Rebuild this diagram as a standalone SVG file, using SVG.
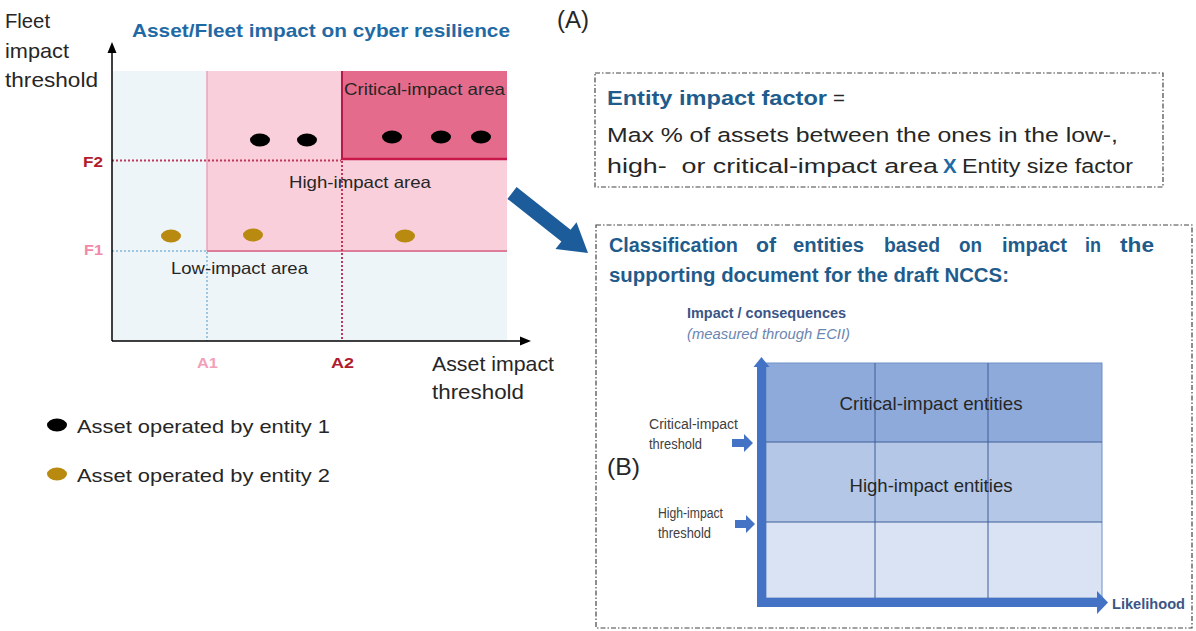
<svg xmlns="http://www.w3.org/2000/svg" width="1196" height="631" viewBox="0 0 1196 631">
<style>
text{font-family:"Liberation Sans",Arial,sans-serif;fill:#262626}
.b{font-weight:bold}
.ttl{fill:#1f5c8c;font-weight:bold}
.ax{font-size:21px}
.dash{fill:none;stroke:#444;stroke-width:1.2;stroke-dasharray:5,2,1.5,2}
.dot1{fill:#000}
.dot2{fill:#b98a10}
.grid{stroke:#3f5f99;stroke-width:1;fill:none}
.blue{fill:#4472c4}
.lbl{font-size:14px;fill:#404040}
</style>
<rect width="1196" height="631" fill="#fff"/>

<g id="chart-a">
  <text class="ax" x="5" y="28" textLength="45" lengthAdjust="spacingAndGlyphs">Fleet</text>
  <text class="ax" x="5" y="58" textLength="64" lengthAdjust="spacingAndGlyphs">impact</text>
  <text class="ax" x="5" y="87" textLength="93" lengthAdjust="spacingAndGlyphs">threshold</text>
  <text x="132" y="37" font-size="18.5" font-weight="bold" style="fill:#1f6aa5" textLength="378" lengthAdjust="spacingAndGlyphs">Asset/Fleet impact on cyber resilience</text>
  <text x="557" y="28" font-size="23" textLength="32" lengthAdjust="spacingAndGlyphs">(A)</text>

  <g id="areas">
    <rect x="112" y="71" width="395" height="270" fill="#eef5f9"/>
    <rect x="207" y="71" width="300" height="180" fill="#f9cfdb"/>
    <line x1="207" y1="71" x2="207" y2="251" stroke="#eba2b7" stroke-width="1.5"/>
    <line x1="207" y1="251" x2="507" y2="251" stroke="#de7d99" stroke-width="2"/>
    <rect x="341" y="71" width="166" height="88" fill="#e46b8c"/>
    <line x1="342" y1="71" x2="342" y2="160" stroke="#b51b48" stroke-width="2"/>
    <line x1="341" y1="159" x2="507" y2="159" stroke="#c8184a" stroke-width="2.5"/>
  </g>

  <g id="thresholds">
    <line x1="112" y1="160.5" x2="341" y2="160.5" stroke="#c0395a" stroke-width="2" stroke-dasharray="2,2"/>
    <line x1="342" y1="161" x2="342" y2="341" stroke="#c0395a" stroke-width="2" stroke-dasharray="2,2"/>
    <line x1="112" y1="251" x2="207" y2="251" stroke="#9dc6e0" stroke-width="2" stroke-dasharray="2,2"/>
    <line x1="207" y1="252" x2="207" y2="341" stroke="#9dc6e0" stroke-width="2" stroke-dasharray="2,2"/>
    <text x="83" y="167" font-size="15" class="b" style="fill:#b01c2e" textLength="20" lengthAdjust="spacingAndGlyphs">F2</text>
    <text x="84" y="255" font-size="15" class="b" style="fill:#f08aa8" textLength="19" lengthAdjust="spacingAndGlyphs">F1</text>
    <text x="197" y="368" font-size="15" class="b" style="fill:#f2a0b8" textLength="21" lengthAdjust="spacingAndGlyphs">A1</text>
    <text x="331" y="368" font-size="15" class="b" style="fill:#b01c2e" textLength="23" lengthAdjust="spacingAndGlyphs">A2</text>
  </g>

  <g id="axes">
    <line x1="112" y1="341" x2="112" y2="50" stroke="#000" stroke-width="1.5"/>
    <polygon points="112,42 107.5,53 116.5,53" fill="#000"/>
    <line x1="112" y1="341" x2="522" y2="341" stroke="#000" stroke-width="1.5"/>
    <polygon points="531,341 520,336.5 520,345.5" fill="#000"/>
  </g>

  <text x="344" y="95" font-size="16.5" textLength="161" lengthAdjust="spacingAndGlyphs">Critical-impact area</text>
  <text x="289" y="188" font-size="16.5" textLength="142" lengthAdjust="spacingAndGlyphs">High-impact area</text>
  <text x="171" y="274" font-size="16.5" textLength="137" lengthAdjust="spacingAndGlyphs">Low-impact area</text>

  <g id="assets">
    <ellipse class="dot1" cx="260" cy="140" rx="10" ry="6.5"/>
    <ellipse class="dot1" cx="307" cy="140" rx="10" ry="6.5"/>
    <ellipse class="dot1" cx="392" cy="137" rx="10" ry="6.5"/>
    <ellipse class="dot1" cx="441" cy="137" rx="10" ry="6.5"/>
    <ellipse class="dot1" cx="481" cy="137" rx="10" ry="6.5"/>
    <ellipse class="dot2" cx="171" cy="236" rx="10" ry="6.5"/>
    <ellipse class="dot2" cx="253" cy="235" rx="10" ry="6.5"/>
    <ellipse class="dot2" cx="405" cy="236" rx="10" ry="6.5"/>
  </g>

  <text class="ax" x="432" y="371" textLength="122" lengthAdjust="spacingAndGlyphs">Asset impact</text>
  <text class="ax" x="432" y="399" textLength="92" lengthAdjust="spacingAndGlyphs">threshold</text>
</g>

<g id="legend">
  <ellipse class="dot1" cx="57" cy="425" rx="10" ry="6.5"/>
  <text x="77" y="433" font-size="19" textLength="253" lengthAdjust="spacingAndGlyphs">Asset operated by entity 1</text>
  <ellipse class="dot2" cx="57" cy="474" rx="10" ry="6.5"/>
  <text x="77" y="482" font-size="19" textLength="253" lengthAdjust="spacingAndGlyphs">Asset operated by entity 2</text>
</g>

<g id="box-formula">
  <rect class="dash" x="595" y="73" width="568" height="114"/>
  <text x="607" y="105" font-size="20.5" class="ttl" textLength="220" lengthAdjust="spacingAndGlyphs">Entity impact factor</text>
  <text x="833" y="105" font-size="20.5">=</text>
  <text x="607" y="142" font-size="20.5" textLength="511" lengthAdjust="spacingAndGlyphs">Max % of assets between the ones in the low-,</text>
  <text x="607" y="173" font-size="20.5" textLength="331" lengthAdjust="spacingAndGlyphs" xml:space="preserve">high-  or critical-impact area</text>
  <text x="943" y="173" font-size="20.5" class="ttl" style="fill:#1f6aa5">X</text>
  <text x="962" y="173" font-size="20.5" textLength="171" lengthAdjust="spacingAndGlyphs">Entity size factor</text>
</g>

<g id="connectors">
  <polygon points="507.4,198.9 516.6,187.1 570.6,229.7 576.5,222.3 588,253 555.5,248.9 561.4,241.5" fill="#1d5c9a"/>
</g>

<g id="box-classification">
  <rect class="dash" x="596" y="225" width="596" height="403"/>
  <g font-size="19.5" class="ttl">
    <text class="ttl" x="609" y="252" textLength="129" lengthAdjust="spacingAndGlyphs">Classification</text>
    <text class="ttl" x="756" y="252" textLength="20" lengthAdjust="spacingAndGlyphs">of</text>
    <text class="ttl" x="793" y="252" textLength="71" lengthAdjust="spacingAndGlyphs">entities</text>
    <text class="ttl" x="884" y="252" textLength="56" lengthAdjust="spacingAndGlyphs">based</text>
    <text class="ttl" x="959" y="252" textLength="23" lengthAdjust="spacingAndGlyphs">on</text>
    <text class="ttl" x="1002" y="252" textLength="65" lengthAdjust="spacingAndGlyphs">impact</text>
    <text class="ttl" x="1085" y="252" textLength="16" lengthAdjust="spacingAndGlyphs">in</text>
    <text class="ttl" x="1120" y="252" textLength="34" lengthAdjust="spacingAndGlyphs">the</text>
    <text class="ttl" x="609" y="282" textLength="400" lengthAdjust="spacingAndGlyphs">supporting document for the draft NCCS:</text>
  </g>
  <text x="607" y="475" font-size="24" textLength="33" lengthAdjust="spacingAndGlyphs">(B)</text>
</g>

<g id="matrix">
  <text x="687" y="318" font-size="14" class="b" style="fill:#3b5586" textLength="159" lengthAdjust="spacingAndGlyphs">Impact / consequences</text>
  <text x="687" y="339" font-size="14" font-style="italic" style="fill:#6b86b0" textLength="163" lengthAdjust="spacingAndGlyphs">(measured through ECII)</text>

  <rect x="766" y="363" width="336" height="79" fill="#8eaadb"/>
  <rect x="766" y="442" width="336" height="80" fill="#b4c7e7"/>
  <rect x="766" y="522" width="336" height="76" fill="#dae3f3"/>
  <rect x="766" y="363" width="336" height="235" fill="none" stroke="#6f8fc8" stroke-width="1"/>
  <line class="grid" x1="875" y1="363" x2="875" y2="598"/>
  <line class="grid" x1="988" y1="363" x2="988" y2="598"/>
  <line class="grid" x1="766" y1="442" x2="1102" y2="442"/>
  <line class="grid" x1="766" y1="522" x2="1102" y2="522"/>

  <text x="931" y="410" font-size="18.5" text-anchor="middle" textLength="183" lengthAdjust="spacingAndGlyphs">Critical-impact entities</text>
  <text x="931" y="492" font-size="18.5" text-anchor="middle" textLength="163" lengthAdjust="spacingAndGlyphs">High-impact entities</text>

  <rect class="blue" x="757" y="366" width="9" height="241"/>
  <polygon class="blue" points="761.5,357 753.5,367 769.5,367"/>
  <rect class="blue" x="757" y="598" width="342" height="9"/>
  <polygon class="blue" points="1108,602.5 1097,591 1097,614"/>
  <text x="1112" y="609" font-size="14.5" class="b" style="fill:#3b5586" textLength="73" lengthAdjust="spacingAndGlyphs">Likelihood</text>

  <text class="lbl" x="649" y="429" textLength="89" lengthAdjust="spacingAndGlyphs">Critical-impact</text>
  <text class="lbl" x="649" y="449" textLength="53" lengthAdjust="spacingAndGlyphs">threshold</text>
  <polygon class="blue" points="732,439 744,439 744,434 753,443 744,452 744,447 732,447"/>
  <text class="lbl" x="658" y="518" textLength="65" lengthAdjust="spacingAndGlyphs">High-impact</text>
  <text class="lbl" x="658" y="538" textLength="53" lengthAdjust="spacingAndGlyphs">threshold</text>
  <polygon class="blue" points="735,520 746,520 746,515 755,524 746,533 746,528 735,528"/>
</g>
</svg>
